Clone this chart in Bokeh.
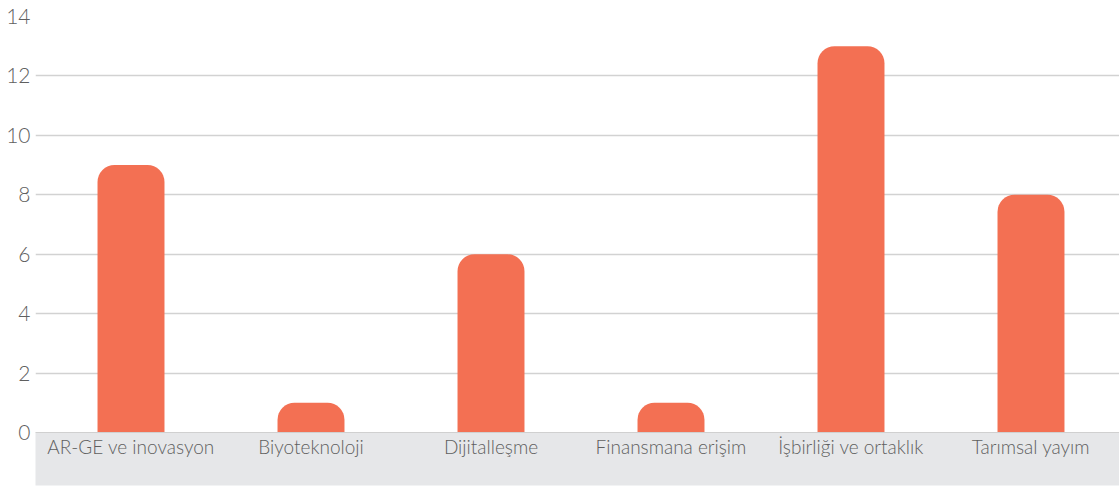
from bokeh.plotting import figure
from bokeh.models import Range1d, FixedTicker, ColumnDataSource
from bokeh.core.properties import value
from bokeh.embed import file_html
from bokeh.resources import INLINE

categories = ["AR-GE ve inovasyon", "Biyoteknoloji", "Dijitalleşme",
              "Finansmana erişim", "İşbirliği ve ortaklık", "Tarımsal yayım"]
values = [9, 1, 6, 1, 13, 8]
y_ticks = [0, 2, 4, 6, 8, 10, 12, 14]

BAR = "#F37053"
BAND = "#E6E7E9"
TXT = "#5f5f5f"
FONT = "Lato Light, Lato"

xs = list(range(len(categories)))
src = ColumnDataSource(dict(x=xs, top=values, cat=categories))

p = figure(width=1119, height=486, output_backend="svg", toolbar_location=None,
           x_range=Range1d(-0.5306, 5.4917), y_range=Range1d(0, 14),
           min_border_left=35, min_border_right=0, min_border_top=16, min_border_bottom=54)
p.outline_line_color = None
p.background_fill_color = "white"

p.vbar(x="x", top="top", bottom=0, width=0.372, source=src, fill_color=BAR,
       line_color=None, border_radius=(17, 17, 0, 0))

# y axis
p.yaxis.ticker = FixedTicker(ticks=y_ticks)
p.yaxis.axis_line_color = None
p.yaxis.major_tick_line_color = None
p.yaxis.minor_tick_line_color = None
p.yaxis.major_tick_out = 0
p.yaxis.minor_tick_out = 0
p.yaxis.major_label_standoff = 5
p.yaxis.major_label_text_font = FONT
p.yaxis.major_label_text_font_size = "21px"
p.yaxis.major_label_text_color = TXT

p.ygrid.ticker = FixedTicker(ticks=y_ticks)
p.ygrid.grid_line_color = "#d2d2d2"
p.ygrid.grid_line_width = 1.5
p.xgrid.grid_line_color = None

# x axis
p.xaxis.ticker = FixedTicker(ticks=xs)
p.xaxis.major_label_overrides = {i: c for i, c in zip(xs, categories)}
p.xaxis.axis_line_color = "#d0d0d0"
p.xaxis.major_tick_line_color = None
p.xaxis.minor_tick_line_color = None
p.xaxis.major_tick_out = 0
p.xaxis.minor_tick_out = 0
p.xaxis.major_label_standoff = 2
p.xaxis.major_label_text_font = FONT
p.xaxis.major_label_text_font_size = "19px"
p.xaxis.major_label_text_color = TXT
p.xaxis.axis_label = " "
p.xaxis.axis_label_standoff = 0
p.xaxis.axis_label_text_font_size = "20px"
p.xaxis.background_fill_color = BAND

open("out.html", "w").write(file_html(p, INLINE))
